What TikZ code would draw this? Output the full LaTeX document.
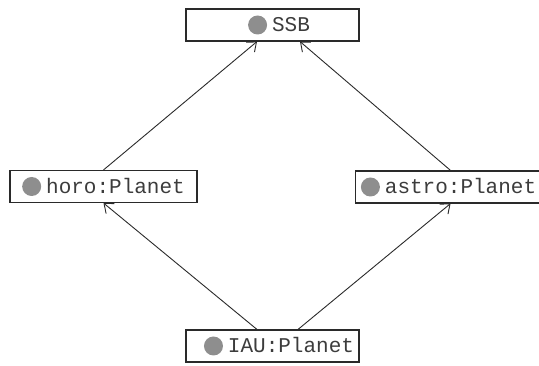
\documentclass[tikz,border=0pt]{standalone}
\usepackage{fontspec}
\setmonofont{Liberation Mono}
\usetikzlibrary{arrows.meta}
\definecolor{dotgray}{HTML}{8E8E8E}
\definecolor{inkgray}{HTML}{2A2A2A}
\definecolor{textgray}{HTML}{3C3C3C}
\newcommand{\objdot}{\tikz[baseline={(0,-7pt)}]\fill[dotgray] (0,0) circle (9.5pt);\hspace{5pt}}
\newcommand{\padright}[1]{\hspace{#1}\null}
\begin{document}
\begin{tikzpicture}[x=1pt,y=-1pt,
    every node/.style={draw=inkgray,line width=1.1pt,rectangle,inner sep=0pt,minimum height=32pt,text=textgray,font=\ttfamily\fontsize{21}{21}\selectfont},
    every edge/.style={draw=inkgray,line width=0.9pt},
    >={Straight Barb[length=8pt,width=13pt]}]
            \clip (0,0) rectangle (539,366);
            \node[minimum width=173pt] (SSB) at (272.5,25) {\hspace{13pt}\objdot SSB};
            \node[minimum width=187pt] (horo) at (103.5,186.5) {\objdot horo:Planet};
            \node[minimum width=220pt,anchor=west] (astro) at (355,187) {\objdot astro:Planet\padright{34pt}};
            \node[minimum width=173pt] (IAU) at (272.5,346) {\hspace{13pt}\objdot IAU:Planet};

            \path [->] (horo.north) edge ([xshift=-15.5pt]SSB.south);
            \path [->] ([xshift=-15pt]astro.north) edge ([xshift=27.5pt]SSB.south);
            \path [->] ([xshift=-15.5pt]IAU.north) edge (horo.south);
            \path [->] ([xshift=25.5pt]IAU.north) edge ([xshift=-15pt]astro.south);
        \end{tikzpicture}
\end{document}
